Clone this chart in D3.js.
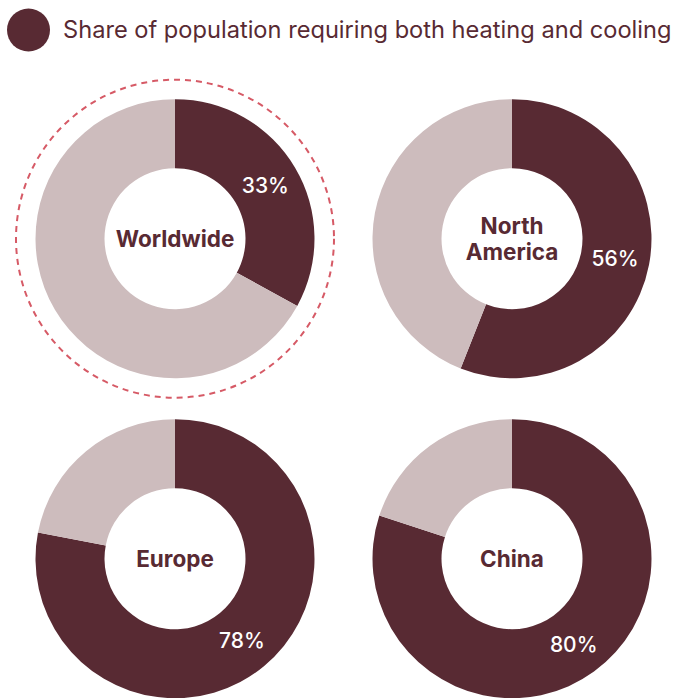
<!DOCTYPE html>
<html>
<head>
<meta charset="utf-8">
<script src="https://cdn.jsdelivr.net/npm/d3@7"></script>
<style>
  html, body { margin: 0; padding: 0; background: #ffffff; }
  svg { display: block; }
</style>
</head>
<body>
<svg id="chart" width="676" height="698"></svg>
<script>
// ---- data ----
const regions = ["Worldwide", "North America", "Europe", "China"];
const shares = [33, 56, 78, 80];
const legendLabel = "Share of population requiring both heating and cooling";
const highlighted = ["Worldwide"];

// ---- style ----
const DARK = "#582a33";
const LIGHT = "#cdbcbd";
const DASH = "#d65a66";
const FONT = "Inter, 'Noto Sans', 'DejaVu Sans', sans-serif";

const svg = d3.select("#chart");

// legend
const legend = svg.append("g");
legend.append("circle").attr("cx", 28.5).attr("cy", 30).attr("r", 21.5).attr("fill", DARK);
const lt = legend.append("text")
  .attr("x", 63).attr("y", 37.5)
  .attr("fill", DARK)
  .attr("font-family", FONT)
  .attr("font-size", 23.5)
  .attr("font-weight", 400)
  .text(legendLabel);
const targetW = 609;
const tw = lt.node().getComputedTextLength();
if (tw > 0) lt.attr("font-size", 23.5 * targetW / tw);

// layout scales
const col = d3.scalePoint().domain([0, 1]).range([175, 512]);
const row = d3.scalePoint().domain([0, 1]).range([238.7, 558.7]);
const outerR = 139.5, innerR = 70.5, dashR = 159;

const pie = d3.pie().sort(null).value(d => d.v);
const arc = d3.arc().innerRadius(innerR).outerRadius(outerR);

regions.forEach((name, i) => {
  const g = svg.append("g")
    .attr("transform", `translate(${col(i % 2)},${row(Math.floor(i / 2))})`);
  const data = [{k: "yes", v: shares[i]}, {k: "no", v: 100 - shares[i]}];
  const arcs = pie(data);
  g.selectAll("path").data(arcs).enter().append("path")
    .attr("d", arc)
    .attr("fill", d => d.data.k === "yes" ? DARK : LIGHT);

  if (highlighted.includes(name)) {
    g.append("circle").attr("r", dashR)
      .attr("fill", "none")
      .attr("stroke", DASH)
      .attr("stroke-width", 2)
      .attr("stroke-dasharray", "6,5");
  }

  // center label
  const words = name.split(" ");
  const lh = 25.5;
  const t = g.append("text")
    .attr("text-anchor", "middle")
    .attr("fill", DARK)
    .attr("font-family", FONT)
    .attr("font-size", 22.5)
    .attr("font-weight", 700);
  words.forEach((w, j) => {
    t.append("tspan")
      .attr("x", 0)
      .attr("y", (j - (words.length - 1) / 2) * lh)
      .attr("dy", "0.36em")
      .text(w);
  });

  // percentage label
  const c = arc.centroid(arcs[0]);
  g.append("text")
    .attr("x", c[0]).attr("y", c[1])
    .attr("dy", "0.38em")
    .attr("text-anchor", "middle")
    .attr("fill", "#ffffff")
    .attr("font-family", FONT)
    .attr("font-size", 21)
    .attr("font-weight", 500)
    .text(shares[i] + "%");
});
</script>
</body>
</html>
